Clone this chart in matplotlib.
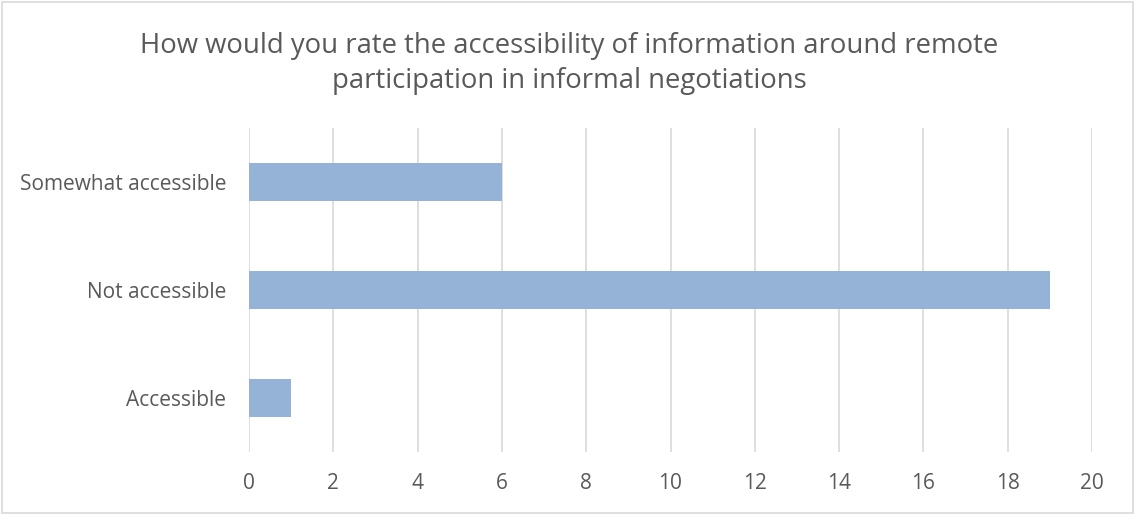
import matplotlib.pyplot as plt
from matplotlib.patches import Rectangle

plt.rcParams['font.family'] = ['Open Sans', 'DejaVu Sans']

categories = ['Accessible', 'Not accessible', 'Somewhat accessible']
counts = [1, 19, 6]
xticks = list(range(0, 21, 2))

fig = plt.figure(figsize=(11.38, 5.14), dpi=100)
ax = fig.add_axes([249/1138, 1 - 452/514, (1092 - 249)/1138, (452 - 128)/514])

ax.barh(categories, counts, height=0.355, color='#95B3D7', zorder=3)
ax.set_xlim(0, 20)
ax.set_ylim(-0.5, 2.5)
ax.set_xticks(xticks)
ax.grid(axis='x', color='#D9D9D9', linewidth=1.2, zorder=0)
for s in ax.spines.values():
    s.set_visible(False)
ax.tick_params(axis='both', length=0, labelsize=15, labelcolor='#595959')
ax.tick_params(axis='y', pad=16.5)
ax.tick_params(axis='x', pad=15)

fig.text(0.5, 1 - 63.5/514, 'How would you rate the accessibility of information around remote\nparticipation in informal negotiations',
         ha='center', va='center', fontsize=19.8, color='#595959', linespacing=1.35)

fig.patches.append(Rectangle((2/1138, 1/514), 1131/1138, 511/514, transform=fig.transFigure,
                             fill=False, edgecolor='#D9D9D9', linewidth=1.2))

fig.savefig('out.png', dpi=100)
